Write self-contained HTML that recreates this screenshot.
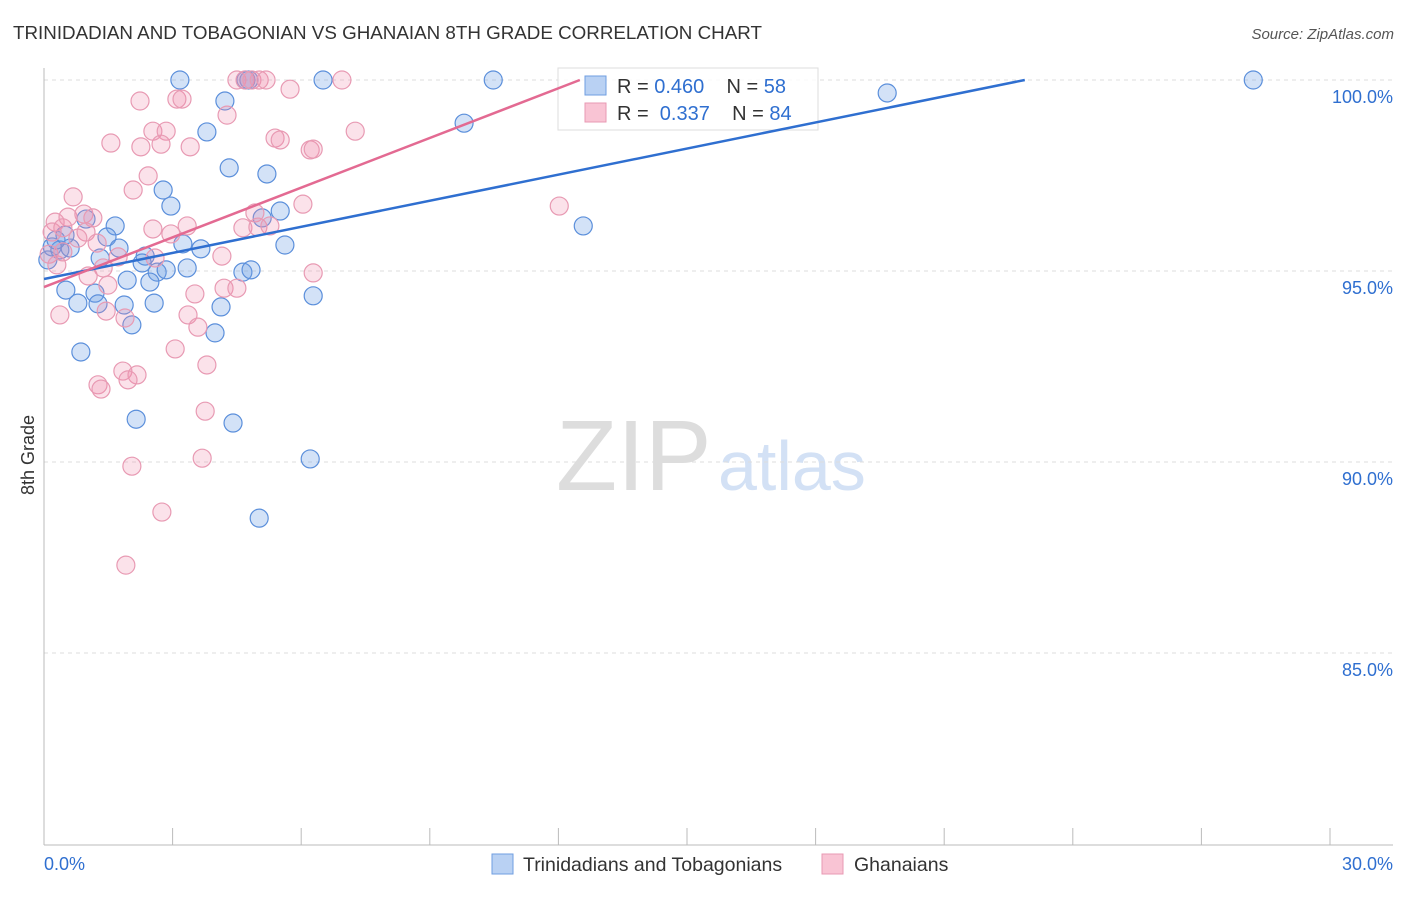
<!DOCTYPE html>
<html><head><meta charset="utf-8"><style>
body{margin:0;background:#fff;font-family:"Liberation Sans",sans-serif}
svg text{font-family:"Liberation Sans",sans-serif}
</style></head><body>
<svg id="chart" width="1406" height="892">
<text x="13" y="39" font-size="18.8" fill="#333">TRINIDADIAN AND TOBAGONIAN VS GHANAIAN 8TH GRADE CORRELATION CHART</text>
<text x="1394" y="39" font-size="15" fill="#555" text-anchor="end" font-style="italic">Source: ZipAtlas.com</text>
<text x="556" y="490" font-size="100" fill="#ddd" font-family="Liberation Serif">ZIP</text>
<text x="718" y="490" font-size="70" fill="#d3e1f5">atlas</text>
<g id="grid"></g><g id="axes"></g><g id="pts"></g>
<g>
<rect x="558" y="68" width="260" height="62" fill="#fff" fill-opacity="0.85" stroke="#ddd"/>
<rect x="585" y="76" width="21" height="19" fill="#b9d1f3" stroke="#6f9ee0"/>
<rect x="585" y="103" width="21" height="19" fill="#f9c4d4" stroke="#e89ab3"/>
<text x="617" y="93" font-size="20" fill="#333">R = <tspan fill="#2f6fd0">0.460</tspan>&#160;&#160;&#160; N = <tspan fill="#2f6fd0">58</tspan></text>
<text x="617" y="120" font-size="20" fill="#333">R = &#160;<tspan fill="#2f6fd0">0.337</tspan>&#160;&#160;&#160; N = <tspan fill="#2f6fd0">84</tspan></text>
</g>
<g id="trends"></g>
<text x="34" y="455" font-size="18" fill="#333" transform="rotate(-90 34 455)" text-anchor="middle">8th Grade</text>
<g>
<rect x="492" y="854" width="21" height="20" fill="#b9d1f3" stroke="#6f9ee0"/>
<text x="523" y="871" font-size="19.5" fill="#333">Trinidadians and Tobagonians</text>
<rect x="822" y="854" width="21" height="20" fill="#f9c4d4" stroke="#e89ab3"/>
<text x="854" y="871" font-size="19.5" fill="#333">Ghanaians</text>
</g>
</svg>
<script>
const yTicks=[100,95,90,85];
const xTickLabels=["0.0%","30.0%"];
const blueX=[3.17,4.78,6.51,10.48,28.21,19.67,4.22,3.80,9.80,4.32,5.20,2.78,2.96,5.51,5.09,1.66,12.58,0.98,1.47,0.19,0.37,0.61,3.24,3.66,5.62,1.75,1.31,2.36,2.29,2.64,2.85,3.34,4.64,4.83,1.94,2.47,0.51,1.19,6.28,0.79,1.26,1.87,2.57,4.13,2.05,3.99,0.86,2.15,4.41,6.21,5.02,0.09,0.28,0.49,4.71];
const blueY=[100,100,100,100,100,99.66,99.45,98.64,98.87,97.70,97.54,97.12,96.70,96.57,96.39,96.18,96.18,96.36,95.89,95.63,95.55,95.60,95.71,95.58,95.68,95.60,95.34,95.39,95.21,94.97,95.03,95.08,94.97,95.03,94.76,94.71,94.50,94.42,94.35,94.16,94.14,94.11,94.16,94.06,93.59,93.38,92.88,91.12,91.02,90.08,88.53,95.29,95.81,95.94,100];
const pinkX=[4.50,4.69,4.85,5.02,5.18,6.95,5.74,2.24,3.10,3.22,4.27,1.56,2.54,2.85,2.73,2.26,3.41,5.39,5.51,7.26,6.21,6.28,2.43,2.08,0.68,0.26,0.56,0.93,1.14,0.98,1.24,0.19,0.44,0.79,2.54,3.34,2.96,6.04,4.92,4.64,4.99,5.27,12.02,0.12,0.30,0.44,1.73,1.38,1.03,2.59,4.15,6.28,1.49,3.52,4.20,4.50,0.37,1.45,1.89,3.36,3.59,3.06,3.80,1.84,2.17,1.96,1.26,1.33,3.76,2.05,3.69,2.75,1.91];
const pinkY=[100,100,100,100,100,100,99.76,99.45,99.50,99.50,99.08,98.35,98.66,98.66,98.32,98.25,98.25,98.48,98.43,98.66,98.17,98.19,97.49,97.12,96.94,96.28,96.41,96.49,96.39,96.02,95.73,96.02,96.13,95.86,96.10,96.18,95.97,96.75,96.52,96.13,96.15,96.18,96.70,95.44,95.16,95.50,95.37,95.08,94.87,95.34,95.39,94.95,94.63,94.40,94.55,94.55,93.85,93.95,93.77,93.85,93.53,92.96,92.54,92.38,92.28,92.15,92.02,91.91,91.33,89.89,90.10,88.69,87.30];
const blueTrend=[[0,94.79],[22.88,100]];
const pinkTrend=[[0,94.58],[12.5,100]];
const X=v=>44+v/30*1286, Y=v=>80+(100-v)/5*191;
const NS="http://www.w3.org/2000/svg";
function mk(t,a,p){const e=document.createElementNS(NS,t);for(const k in a)e.setAttribute(k,a[k]);document.getElementById(p).appendChild(e);return e;}
yTicks.forEach(t=>{
 const l=mk('line',{x1:44,x2:1393,y1:Y(t),y2:Y(t),stroke:'#ddd','stroke-dasharray':'4,4'},'grid');
 
 
 const tx=mk('text',{x:1393,y:Y(t)+23,'font-size':18,fill:'#2f6fd0','text-anchor':'end'},'grid');
 tx.textContent=t.toFixed(1)+'%';
 
 
});
const ax=mk('line',{x1:44,x2:44,y1:68,y2:845,stroke:'#bbb'},'axes');


const bx=mk('line',{x1:44,x2:1393,y1:845,y2:845,stroke:'#bbb'},'axes');


for(let i=0;i<=10;i++){
 const t=mk('line',{x1:X(i*3),x2:X(i*3),y1:828,y2:845,stroke:'#bbb'},'axes');
 
 
}
[[0,'start'],[30,'end']].forEach((p,i)=>{
 const t=mk('text',{x:p[0]===0?44:1393,y:870,'font-size':18,fill:'#2f6fd0','text-anchor':p[1]},'axes');
 t.textContent=xTickLabels[i];
 
 
});
blueX.forEach((v,i)=>{
 const c=mk('circle',{cx:X(v),cy:Y(blueY[i]),r:9,fill:'rgba(110,160,230,0.3)',stroke:'#5b8fdb','stroke-width':1.2},'pts');
 
 
});
pinkX.forEach((v,i)=>{
 const c=mk('circle',{cx:X(v),cy:Y(pinkY[i]),r:9,fill:'rgba(240,140,170,0.25)',stroke:'#e89ab3','stroke-width':1.2},'pts');
 
 
});
const bl=mk('line',{x1:X(blueTrend[0][0]),y1:Y(blueTrend[0][1]),x2:X(blueTrend[1][0]),y2:Y(blueTrend[1][1]),stroke:'#2f6fd0','stroke-width':2.5},'trends');


const pl=mk('line',{x1:X(pinkTrend[0][0]),y1:Y(pinkTrend[0][1]),x2:X(pinkTrend[1][0]),y2:Y(pinkTrend[1][1]),stroke:'#e36a92','stroke-width':2.5},'trends');


</script>
</body></html>
